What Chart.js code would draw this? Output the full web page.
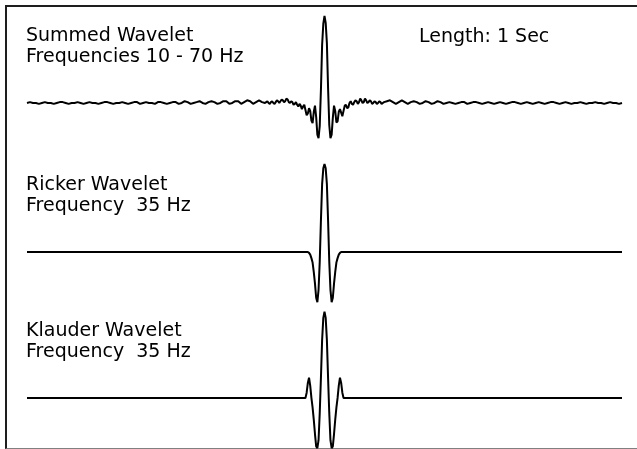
<!DOCTYPE html>
<html>
<head>
<meta charset="utf-8">
<script src="https://cdn.jsdelivr.net/npm/chart.js@4"></script>
<style>
  html, body { margin: 0; padding: 0; background: #fff; }
  #wrap { position: relative; width: 637px; height: 449px; overflow: hidden; }
  #frame { position: absolute; left: 5px; top: 5px; width: 700px; height: 441px;
           border-top: 2px solid #1e1e1e; border-left: 2px solid #1e1e1e; border-bottom: 1px solid #808080; }
  .lbl { position: absolute; font-family: "DejaVu Sans", sans-serif; font-size: 19px; line-height: 21px;
         color: #000; white-space: pre; }
  canvas { position: absolute; left: 0; top: 0; }
</style>
</head>
<body>
<div id="wrap">
  <div id="frame"></div>
  <canvas id="chart-wavelets" width="637" height="449"></canvas>
  <div class="lbl" style="left:26px; top:24px;">Summed Wavelet<br>Frequencies 10 - 70 Hz</div>
  <div class="lbl" style="left:419px; top:25px;">Length: 1 Sec</div>
  <div class="lbl" style="left:26px; top:173px;">Ricker Wavelet<br>Frequency  35 Hz</div>
  <div class="lbl" style="left:26px; top:319px;">Klauder Wavelet<br>Frequency  35 Hz</div>
</div>
<script>
// trace length in seconds
var traceLength = 1.0;

// summed wavelet 10-70 Hz, amplitude in % of peak
// outer parts sampled every 5 ms, middle (0.40 - 0.60 s) every 2 ms
var summedLeft = [0,1,0,0,-1,0,1,0,0,-1, 0,1,1,0,-1,0,0,1,0,-1, 0,1,0,0,-1,0,1,1,0,-1,
                  0,0,1,0,-1,0,1,1,-1,0, 1,0,0,-1,1,1,0,-1,0,1, 1,-1,0,2,1,-1,0,1,2,0,
                  -1,1,2,1,-1,0,2,2,-1,0, 2,2,-1,1,3,2,-1,1,3,1];
var summedMid = [0,1,2,0,-1,1,2,0,-1,1, 3,2,0,2,4,3,1,2,5,4, 1,0,2,1,-2,-1,1,-2,-4,-1,
                 -3,-7,-4,-2,-8,-14,-12,-6,-9,-20, -23,-10,-3,-16,-36,-40,-26,15,66,90,
                 99,
                 91,68,17,-25,-40,-36,-17,-3,-9,-22, -21,-10,-7,-11,-15,-9,-3,-2,-6,-5,
                 0,2,-1,-2,1,3,2,-1,1,5, 3,0,1,5,3,0,1,3,2,-1, 0,2,1,-1,0,2,1,-1,0,1];
var summedRight = [2,3,1,-1,1,3,1,-1,1,2, 1,-1,0,2,1,-1,0,2,1,-1, 0,1,0,-1,0,1,1,-1,0,1,
                   1,0,-1,0,1,0,-1,0,1,0, -1,0,1,1,0,-1,0,1,0,-1, 0,1,0,-1,0,1,1,0,-1,0,
                   1,0,-1,0,0,1,0,-1,0,0, 1,0,0,-1,0,1,0,0,-1,0];

// Ricker 35 Hz, 2 ms samples centred on 0.5 s
var rickerAmp = [0,-1,-3,-7,-12,-23,-36,-52,-57,-43,-11,36,77,95,
                 100,
                 95,77,36,-11,-43,-57,-52,-36,-23,-12,-7,-3,-1,0];

// Klauder 35 Hz, 2 ms samples centred on 0.5 s
var klauderAmp = [0,6,17,23,14,0,-11,-25,-41,-55,-57,-48,-17,23,66,91,
                  98,
                  91,66,23,-17,-48,-57,-55,-41,-25,-11,0,14,23,17,6,0];

var coarseStep = 0.005;
var fineStep = 0.002;
var midStart = 0.40;
var rightStart = 0.605;
var centreTime = 0.5;

// where each trace sits (in amplitude units below the top trace)
var traceOffsets = [0, -169.3, -335.2];

function buildSummed(offset) {
    var pts = [];
    for (var i = 0; i < summedLeft.length; i++) pts.push({x: i * coarseStep, y: summedLeft[i] + offset});
    for (var i = 0; i < summedMid.length; i++) pts.push({x: midStart + i * fineStep, y: summedMid[i] + offset});
    for (var i = 0; i < summedRight.length; i++) pts.push({x: rightStart + i * coarseStep, y: summedRight[i] + offset});
    return pts;
}

function buildCentred(amp, offset) {
    var pts = [{x: 0, y: offset}];
    var half = (amp.length - 1) / 2;
    for (var i = 0; i < amp.length; i++) pts.push({x: centreTime + (i - half) * fineStep, y: amp[i] + offset});
    pts.push({x: traceLength, y: offset});
    return pts;
}

var ctx = document.getElementById('chart-wavelets').getContext('2d');
var waveChart = new Chart(ctx, {
    type: 'line',
    data: {
        datasets: [
            {label: 'Summed Wavelet', data: buildSummed(traceOffsets[0])},
            {label: 'Ricker Wavelet', data: buildCentred(rickerAmp, traceOffsets[1])},
            {label: 'Klauder Wavelet', data: buildCentred(klauderAmp, traceOffsets[2])}
        ]
    },
    options: {
        responsive: false,
        animation: false,
        layout: {padding: 0},
        elements: {
            point: {radius: 0},
            line: {borderColor: '#000', borderWidth: 2, tension: 0, borderJoinStyle: 'bevel', fill: false}
        },
        plugins: {legend: {display: false}, tooltip: {enabled: false}},
        scales: {
            x: {type: 'linear', display: false, min: -0.04538, max: 1.02521},
            y: {type: 'linear', display: false, min: -393.2, max: 117.0}
        }
    }
});
</script>
</body>
</html>
